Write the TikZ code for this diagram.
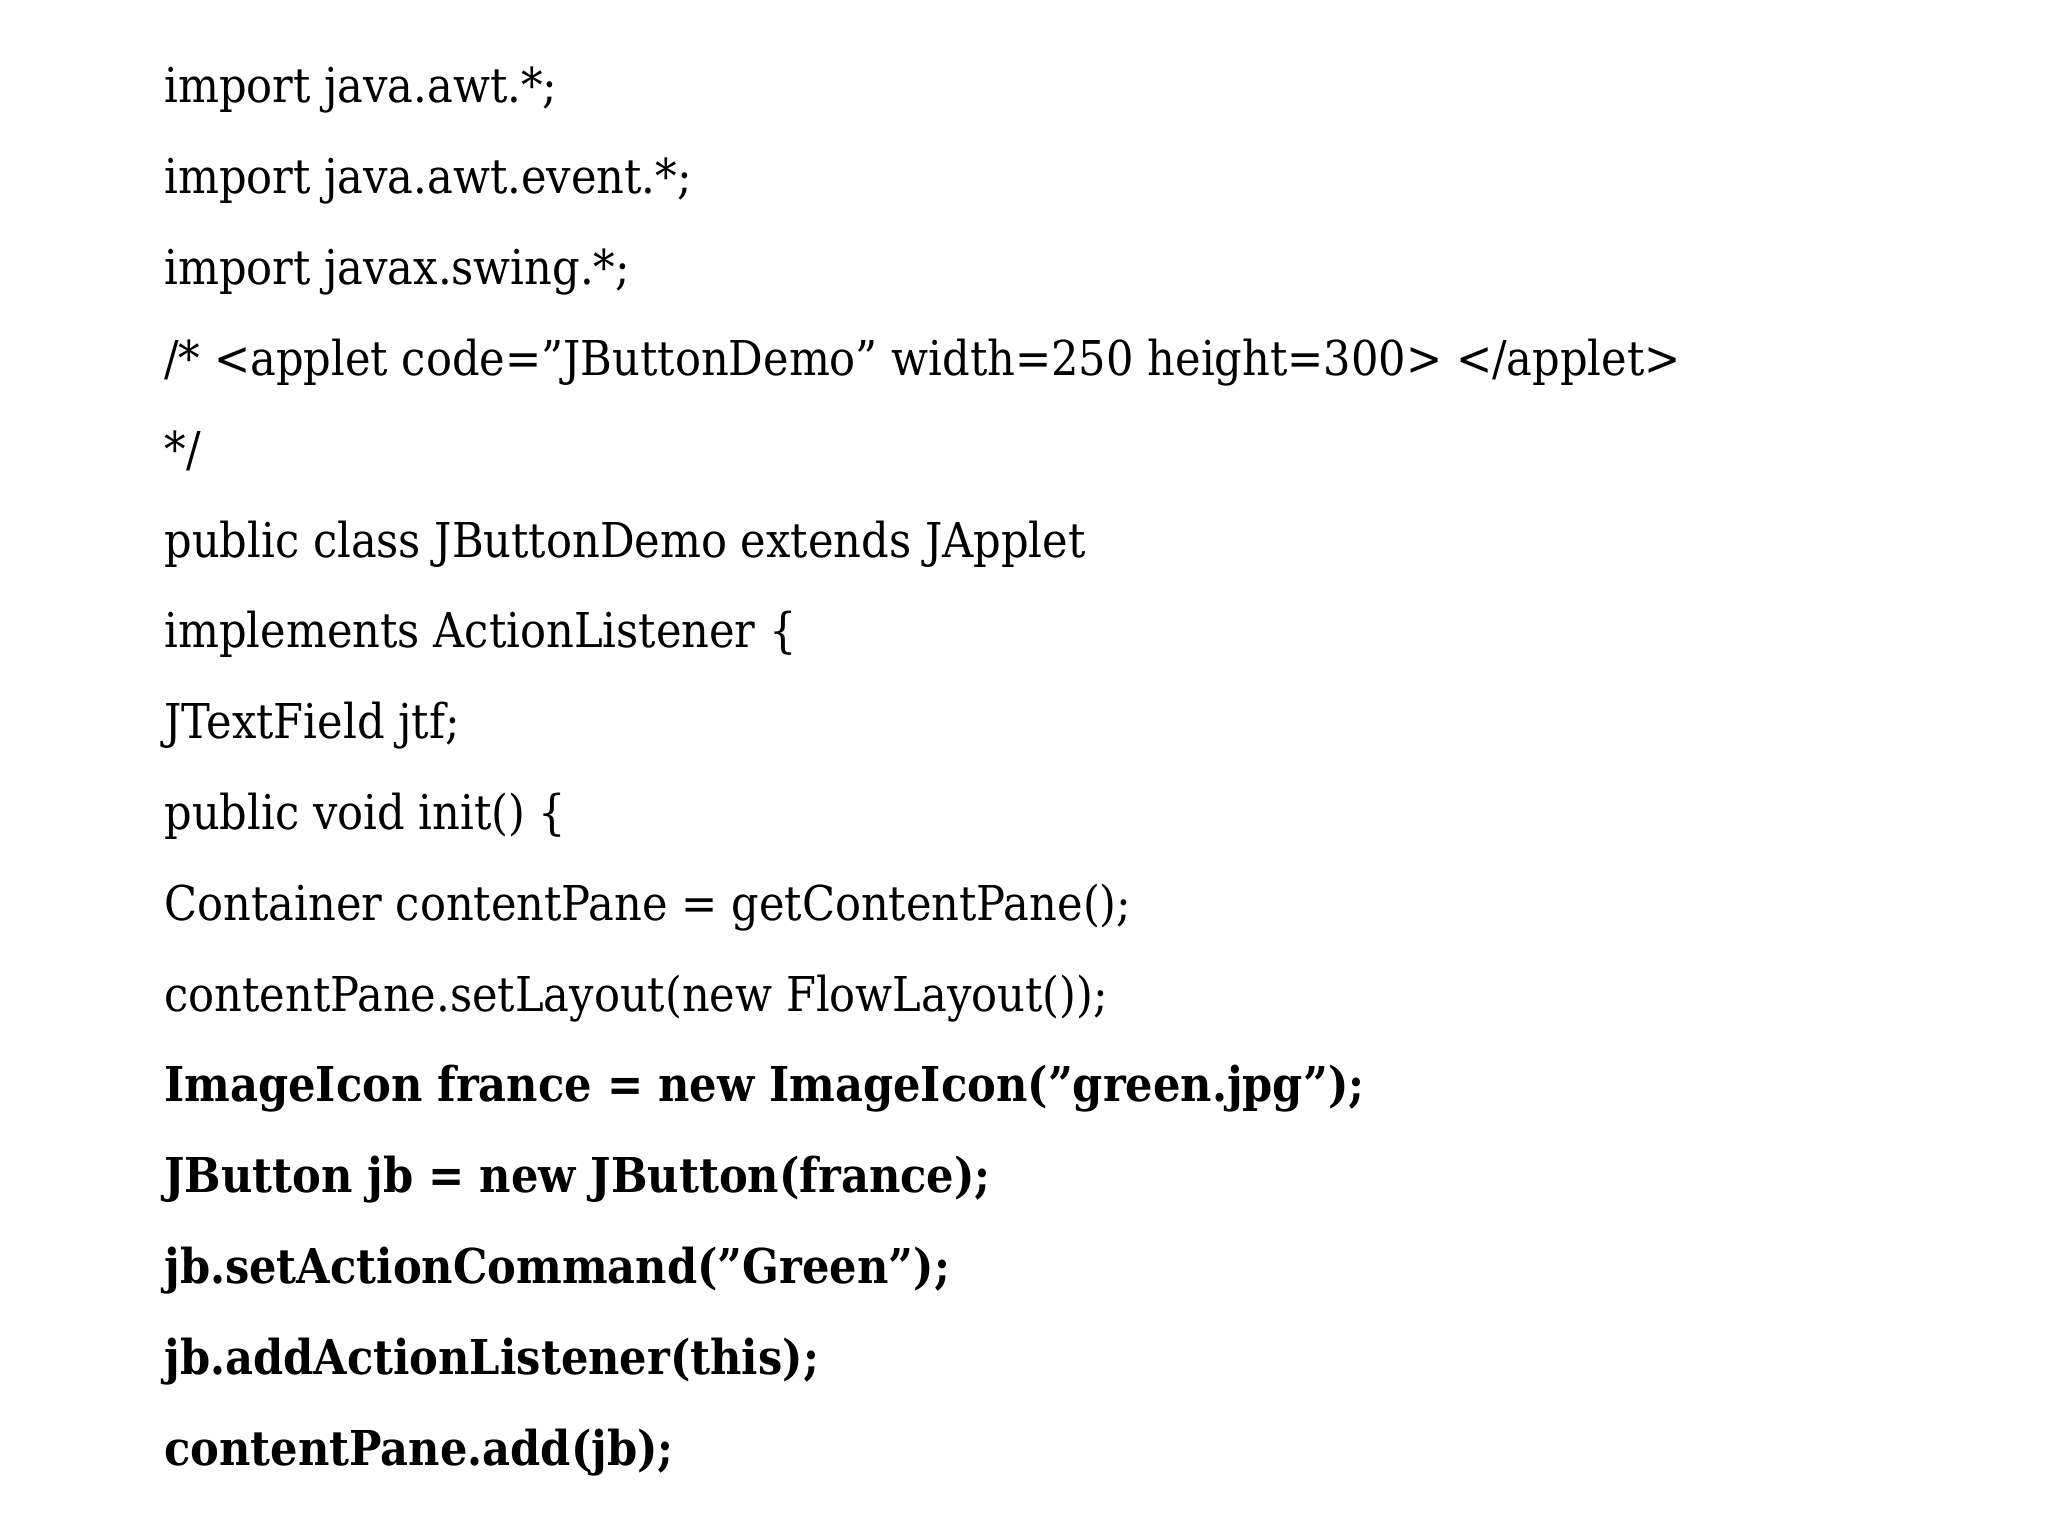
\documentclass[tikz,border=0pt]{standalone}
\usepackage{fontspec}
\setmainfont{DejaVu Serif Condensed}
\begin{document}
\begin{tikzpicture}[x=0.5pt,y=-0.5pt,
  codeline/.style={anchor=base west,inner sep=0pt,font=\fontsize{24}{28}\selectfont},
  boldline/.style={codeline,font=\fontsize{24}{28}\selectfont\bfseries}]
\useasboundingbox (0,0) rectangle (2048,1536);
\def\ls{90.8}
\node[codeline] (l1) at (164,103) {import java.awt.*;};
\node[codeline] (l2) at (164,103+\ls) {import java.awt.event.*;};
\node[codeline] (l3) at (164,103+2*\ls) {import javax.swing.*;};
\node[codeline] (l4) at (164,103+3*\ls) {/* <applet code="JButtonDemo" width=250 height=300> </applet>};
\node[codeline] (l5) at (164,103+4*\ls) {*/};
\node[codeline] (l6) at (164,103+5*\ls) {public class JButtonDemo extends JApplet};
\node[codeline] (l7) at (164,103+6*\ls) {implements ActionListener \{};
\node[codeline] (l8) at (164,103+7*\ls) {JTextField jtf;};
\node[codeline] (l9) at (164,103+8*\ls) {public void init() \{};
\node[codeline] (l10) at (164,103+9*\ls) {Container contentPane = getContentPane();};
\node[codeline] (l11) at (164,103+10*\ls) {contentPane.setLayout(new FlowLayout());};
\node[boldline] (l12) at (164,103+11*\ls) {ImageIcon france = new ImageIcon("green.jpg");};
\node[boldline] (l13) at (164,103+12*\ls) {JButton jb = new JButton(france);};
\node[boldline] (l14) at (164,103+13*\ls) {jb.setActionCommand("Green");};
\node[boldline] (l15) at (164,103+14*\ls) {jb.addActionListener(this);};
\node[boldline] (l16) at (164,103+15*\ls) {contentPane.add(jb);};
\end{tikzpicture}
\end{document}
